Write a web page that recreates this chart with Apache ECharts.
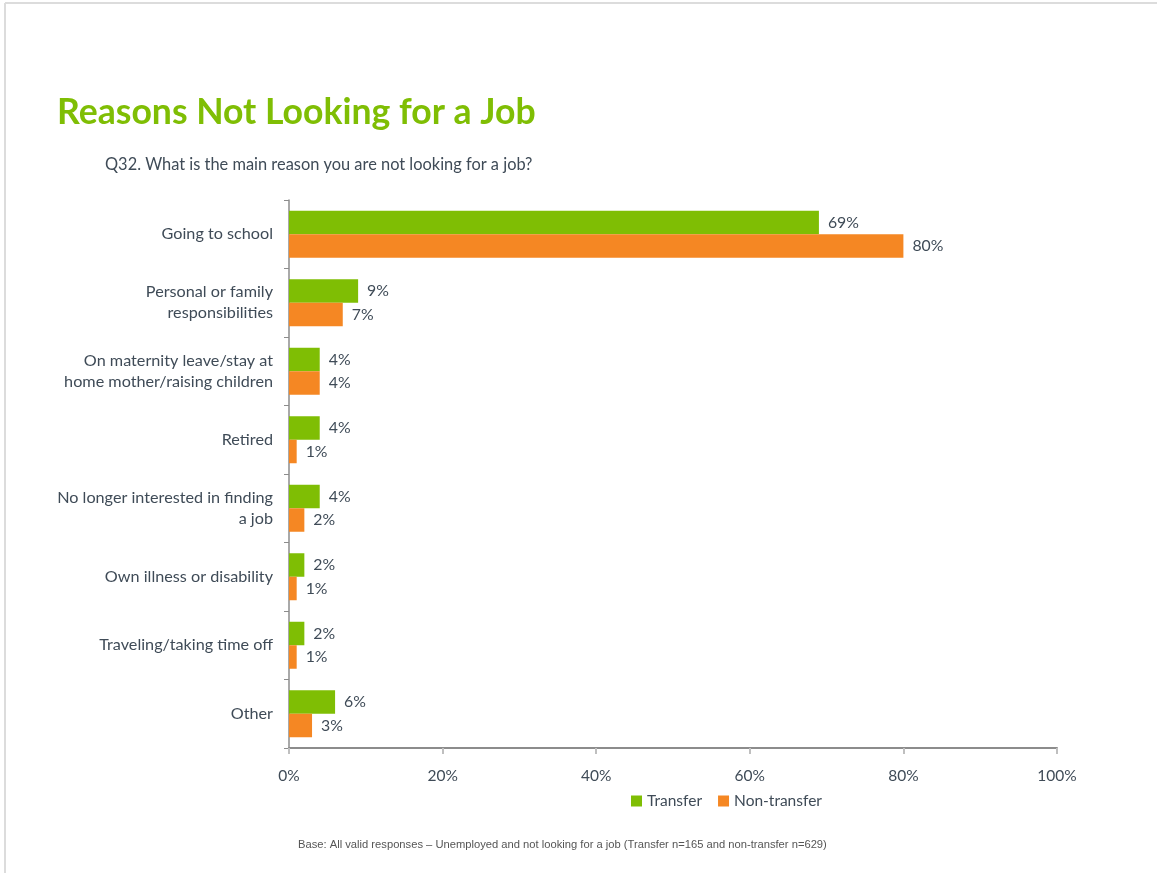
<!DOCTYPE html>
<html>
<head>
<meta charset="utf-8">
<script src="https://cdn.jsdelivr.net/npm/echarts@6/dist/echarts.min.js"></script>
<style>
  html, body { margin: 0; padding: 0; background: #fff; }
  #chart { width: 1157px; height: 873px; }
</style>
</head>
<body>
<div id="chart"></div>
<script>
// Reasons for not looking for a job, share of respondents (%)
const categories = [
  'Going to school',
  'Personal or family\nresponsibilities',
  'On maternity leave/stay at\nhome mother/raising children',
  'Retired',
  'No longer interested in finding\na job',
  'Own illness or disability',
  'Traveling/taking time off',
  'Other'
];
const transfer    = [69, 9, 4, 4, 4, 2, 2, 6];
const nonTransfer = [80, 7, 4, 1, 2, 1, 1, 3];
const seriesNames = ['Transfer', 'Non-transfer'];
const xTicks = [0, 20, 40, 60, 80, 100];

const GREEN = '#7FBE04';
const ORANGE = '#F58723';
const TEXT = '#3F4B57';
const AXIS = '#8C8C8C';
const FONT = 'Lato, "Open Sans", sans-serif';

const chart = echarts.init(document.getElementById('chart'), null, { renderer: 'canvas' });

const valueLabel = {
  show: true,
  position: 'right',
  distance: 9,
  color: TEXT,
  fontFamily: FONT,
  fontSize: 15.8,
  formatter: p => p.value + '%'
};

chart.setOption({
  animation: false,
  backgroundColor: '#fff',
  textStyle: { fontFamily: FONT },
  graphic: [
    { type: 'line', shape: { x1: 5, y1: 3, x2: 1157, y2: 3 }, style: { stroke: '#DCDCDC', lineWidth: 2 } },
    { type: 'line', shape: { x1: 5, y1: 3, x2: 5, y2: 873 }, style: { stroke: '#DCDCDC', lineWidth: 2 } },
    {
      type: 'text', left: 57, top: 95,
      style: { text: 'Reasons Not Looking for a Job', fill: GREEN, font: 'bold 35.6px Lato, "Open Sans", sans-serif' }
    },
    {
      type: 'text', left: 105, top: 157,
      style: { text: 'Q32. What is the main reason you are not looking for a job?', fill: TEXT, font: '16.4px Lato, "Open Sans", sans-serif' }
    },
    {
      type: 'text', left: 298, top: 839,
      style: { text: 'Base: All valid responses \u2013 Unemployed and not looking for a job (Transfer n=165 and non-transfer n=629)', fill: '#555', font: '11.2px "Liberation Sans", Arial, sans-serif' }
    }
  ],
  legend: {
    data: seriesNames,
    left: 626,
    top: 788,
    icon: 'rect',
    itemWidth: 11,
    itemHeight: 11,
    itemGap: 16,
    textStyle: { color: TEXT, fontFamily: FONT, fontSize: 15.5 }
  },
  grid: { left: 289, right: 100, top: 200, bottom: 125, containLabel: false },
  xAxis: {
    type: 'value',
    min: xTicks[0],
    max: xTicks[xTicks.length - 1],
    interval: 20,
    axisLine: { show: true, lineStyle: { color: AXIS, width: 2 } },
    axisTick: { show: true, length: 6, lineStyle: { color: '#BFBFBF', width: 2 } },
    splitLine: { show: false },
    axisLabel: { color: TEXT, fontFamily: FONT, fontSize: 15.5, margin: 20, formatter: '{value}%' }
  },
  yAxis: {
    type: 'category',
    inverse: true,
    data: categories,
    axisLine: { show: true, lineStyle: { color: AXIS, width: 1.5 } },
    axisTick: { show: true, length: 5, lineStyle: { color: AXIS } },
    axisLabel: { color: TEXT, fontFamily: FONT, fontSize: 16.2, margin: 16, lineHeight: 21, align: 'right' }
  },
  series: [
    {
      name: seriesNames[0], type: 'bar', data: transfer,
      itemStyle: { color: GREEN }, barWidth: 23.5, barGap: '0%',
      label: valueLabel
    },
    {
      name: seriesNames[1], type: 'bar', data: nonTransfer,
      itemStyle: { color: ORANGE }, barWidth: 23.5, barGap: '0%',
      label: valueLabel
    }
  ]
});
</script>
</body>
</html>
